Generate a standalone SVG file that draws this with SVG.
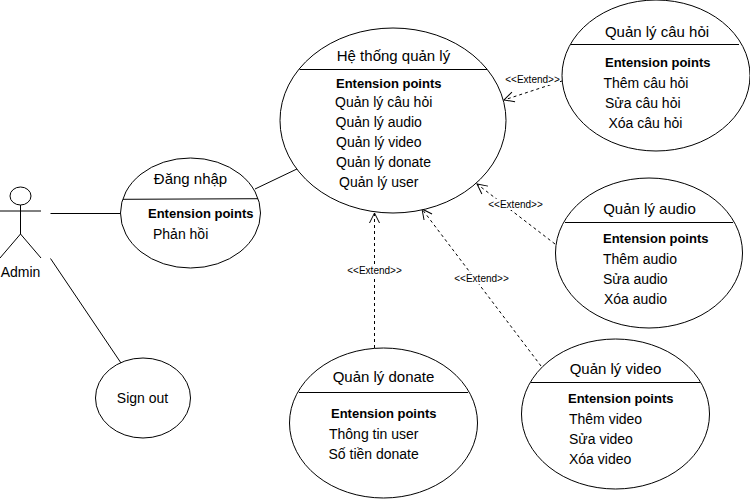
<svg xmlns="http://www.w3.org/2000/svg" width="750" height="499" viewBox="0 0 750 499">
<style>
text{font-family:"Liberation Sans",Arial,sans-serif;fill:#000}
.t{font-size:15px;text-anchor:middle}
.a{font-size:14px;text-anchor:middle}
.i{font-size:14px}
.b{font-size:13px;font-weight:bold}
.e{font-size:10px;text-anchor:middle}
.s{fill:#fff;stroke:#000;stroke-width:1}
.l{fill:none;stroke:#000;stroke-width:1}
.d{fill:none;stroke:#000;stroke-width:1;stroke-dasharray:3 3;marker-end:url(#o)}
</style>
<defs>
<marker id="o" markerUnits="userSpaceOnUse" markerWidth="14" markerHeight="14" refX="11" refY="7" orient="auto">
<path d="M1 2 L11 7 L1 12" fill="none" stroke="#000" stroke-width="1"/>
</marker>
</defs>
<rect width="750" height="499" fill="#fff"/>
<g id="connectors">
<path class="l" d="M50.500 213.500H120"/>
<path class="l" d="M50.500 258.500L121 363"/>
<path class="l" d="M255 189L299 168"/>
<path class="d" d="M374.500 348V213"/>
<path class="d" d="M541 366L422 209"/>
<path class="d" d="M555 244L477 184"/>
<path class="d" d="M562 81L504 100"/>
</g>
<g id="actor-admin">
<ellipse class="l" cx="20.500" cy="196" rx="10.500" ry="9"/>
<path class="l" d="M20.500 205V234M0 211H41M0 258L20.500 234L41 258"/>
<text class="a" x="20.500" y="277">Admin</text>
</g>
<g id="node-dangnhap">
<ellipse class="s" cx="190.500" cy="213" rx="70" ry="55"/>
<path class="l" d="M123 199.300L258 198.700"/>
<text class="t" x="190.500" y="184">Đăng nhập</text>
<text class="b" x="148" y="218">Entension points</text>
<text class="i" x="153" y="239">Phản hồi</text>
</g>
<g id="node-signout">
<ellipse class="s" cx="143" cy="398" rx="47.500" ry="40"/>
<text class="a" x="142.500" y="403">Sign out</text>
</g>
<g id="node-hethong">
<ellipse class="s" cx="393" cy="120.500" rx="113" ry="92.500"/>
<path class="l" d="M299.500 69.500H487"/>
<text class="t" x="393.500" y="61">Hệ thống quản lý</text>
<text class="b" x="336" y="88">Entension points</text>
<text class="i" x="335" y="107">Quản lý câu hỏi</text>
<text class="i" x="335.500" y="127">Quản lý audio</text>
<text class="i" x="336" y="147">Quản lý video</text>
<text class="i" x="336" y="167">Quản lý donate</text>
<text class="i" x="339" y="187">Quản lý user</text>
</g>
<g id="node-cauhoi">
<ellipse class="s" cx="656" cy="75.500" rx="94" ry="75.500"/>
<path class="l" d="M571 44.500H739"/>
<text class="t" x="657" y="37">Quản lý câu hỏi</text>
<text class="b" x="605" y="67">Entension points</text>
<text class="i" x="603.500" y="88">Thêm câu hỏi</text>
<text class="i" x="605" y="108">Sửa câu hỏi</text>
<text class="i" x="608.500" y="128">Xóa câu hỏi</text>
</g>
<g id="node-audio">
<ellipse class="s" cx="649" cy="253" rx="93.500" ry="75"/>
<path class="l" d="M565 222.500H733"/>
<text class="t" x="649.500" y="214">Quản lý audio</text>
<text class="b" x="603" y="243">Entension points</text>
<text class="i" x="603" y="264">Thêm audio</text>
<text class="i" x="603" y="284">Sửa audio</text>
<text class="i" x="604" y="304">Xóa audio</text>
</g>
<g id="node-video">
<ellipse class="s" cx="615.500" cy="414" rx="94" ry="75"/>
<path class="l" d="M531 382.500H700"/>
<text class="t" x="615.500" y="374">Quản lý video</text>
<text class="b" x="568" y="403">Entension points</text>
<text class="i" x="569" y="424">Thêm video</text>
<text class="i" x="569" y="444">Sửa video</text>
<text class="i" x="569" y="464">Xóa video</text>
</g>
<g id="node-donate">
<ellipse class="s" cx="383.500" cy="423" rx="94" ry="75"/>
<path class="l" d="M299 392.500H468"/>
<text class="t" x="383.500" y="382">Quản lý donate</text>
<text class="b" x="331" y="418">Entension points</text>
<text class="i" x="329" y="439">Thông tin user</text>
<text class="i" x="328.500" y="459">Số tiền donate</text>
</g>
<g id="connector-labels">
<rect x="505" y="74" width="55" height="11" fill="#fff"/>
<text class="e" x="532.500" y="82.500">&lt;&lt;Extend&gt;&gt;</text>
<rect x="488" y="199" width="55" height="11" fill="#fff"/>
<text class="e" x="515.500" y="207.500">&lt;&lt;Extend&gt;&gt;</text>
<rect x="347" y="265" width="55" height="11" fill="#fff"/>
<text class="e" x="374.500" y="274">&lt;&lt;Extend&gt;&gt;</text>
<rect x="454" y="273" width="55" height="11" fill="#fff"/>
<text class="e" x="481.500" y="282">&lt;&lt;Extend&gt;&gt;</text>
</g>
</svg>
